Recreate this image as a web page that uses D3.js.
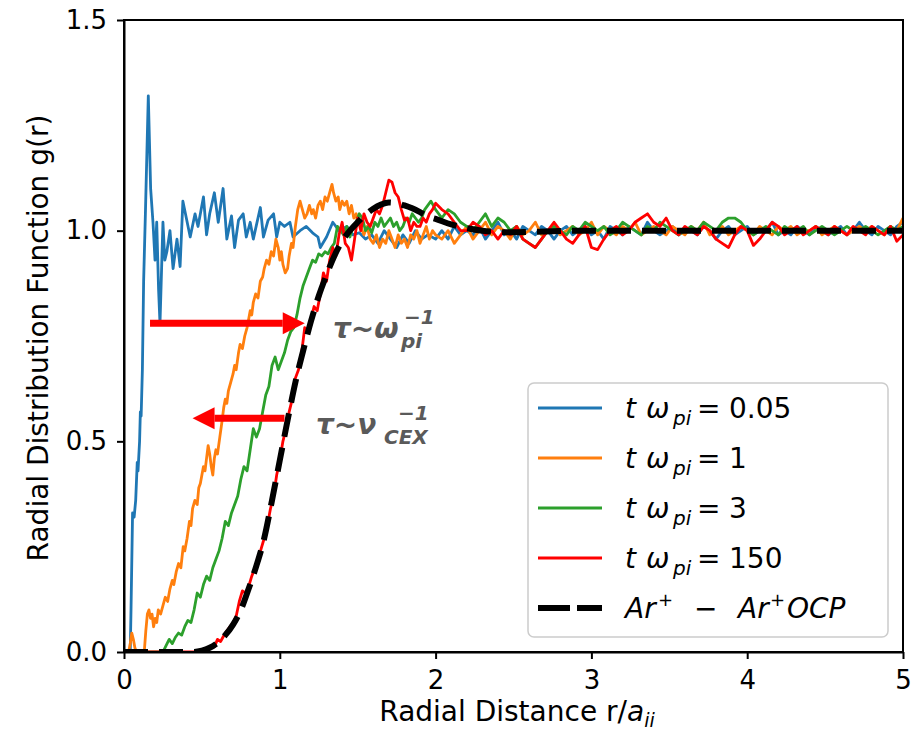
<!DOCTYPE html>
<html><head><meta charset="utf-8">
<script src="https://cdn.jsdelivr.net/npm/d3@7"></script>
<style>
html,body{margin:0;padding:0;background:#fff;}
svg{display:block;}
text{font-family:"DejaVu Sans",sans-serif;}
</style></head>
<body>
<svg id="chart" width="916" height="733"></svg>
<script>
// ---------- DATA ----------
const xTicks = [0, 1, 2, 3, 4, 5];
const yTicks = [0.0, 0.5, 1.0, 1.5];
const legendLabels = ["0.05", "1", "3", "150"];
const seriesColors = ["#1f77b4", "#ff7f0e", "#2ca02c", "#ff0000"];

// head parts [r, g(r)] up to r = 2.0
const blueHead = [[0,0],[0.04,0],[0.045,0.1],[0.055,0.33],[0.065,0.32],[0.075,0.36],[0.085,0.45],[0.09,0.43],[0.1,0.5],[0.105,0.57],[0.11,0.56],[0.118,0.67],[0.126,0.88],[0.138,1.05],[0.156,1.32],[0.171,1.10],[0.186,1.02],[0.199,0.93],[0.21,1.02],[0.222,0.86],[0.231,0.78],[0.25,1.02],[0.262,0.93],[0.275,0.95],[0.295,1.0],[0.315,0.91],[0.34,0.98],[0.36,0.915],[0.378,1.07],[0.40,1.03],[0.425,0.985],[0.456,1.04],[0.475,1.01],[0.51,1.08],[0.53,0.99],[0.55,1.04],[0.58,1.09],[0.605,1.02],[0.636,1.10],[0.66,0.98],[0.69,1.035],[0.71,0.96],[0.735,1.025],[0.765,1.04],[0.785,0.985],[0.81,1.02],[0.83,0.98],[0.875,1.055],[0.895,0.985],[0.925,1.025],[0.96,1.04],[0.98,0.985],[1.0,1.02],[1.03,1.01],[1.065,1.02],[1.085,0.985],[1.13,1.0],[1.17,1.01],[1.21,0.995],[1.245,0.985],[1.26,0.96],[1.30,0.985],[1.34,1.02],[1.38,1.0],[1.43,1.01],[1.47,0.99],[1.51,0.995],[1.55,0.98],[1.59,0.99],[1.63,0.97],[1.67,1.0],[1.71,0.98],[1.75,0.96],[1.79,0.99],[1.83,0.97],[1.87,1.0],[1.91,0.98],[1.95,0.99],[2.0,0.98]];

const orangeHead = [[0,0],[0.03,0],[0.04,0.02],[0.05,0.045],[0.06,0.03],[0.07,0.01],[0.08,0],[0.13,0],[0.14,0.05],[0.15,0.09],[0.16,0.10],[0.17,0.08],[0.18,0.09],[0.19,0.06],[0.2,0.08],[0.21,0.07],[0.22,0.10],[0.235,0.09],[0.25,0.11],[0.265,0.13],[0.28,0.12],[0.295,0.15],[0.31,0.17],[0.32,0.16],[0.335,0.19],[0.35,0.21],[0.365,0.20],[0.38,0.25],[0.39,0.24],[0.405,0.27],[0.42,0.31],[0.43,0.30],[0.44,0.34],[0.455,0.36],[0.47,0.35],[0.48,0.39],[0.49,0.40],[0.5,0.42],[0.51,0.44],[0.52,0.43],[0.53,0.46],[0.54,0.49],[0.55,0.47],[0.56,0.44],[0.57,0.42],[0.58,0.46],[0.59,0.48],[0.6,0.47],[0.615,0.51],[0.63,0.55],[0.64,0.58],[0.65,0.60],[0.66,0.59],[0.67,0.62],[0.685,0.64],[0.7,0.66],[0.71,0.68],[0.72,0.67],[0.735,0.71],[0.745,0.73],[0.76,0.72],[0.775,0.75],[0.79,0.77],[0.8,0.79],[0.81,0.81],[0.82,0.80],[0.83,0.83],[0.845,0.85],[0.86,0.84],[0.875,0.88],[0.89,0.89],[0.9,0.91],[0.915,0.93],[0.93,0.92],[0.945,0.95],[0.96,0.94],[0.975,0.98],[0.99,0.96],[1.0,0.93],[1.01,0.95],[1.02,0.92],[1.035,0.90],[1.05,0.91],[1.06,0.94],[1.075,0.97],[1.085,0.96],[1.1,1.01],[1.115,1.05],[1.13,1.07],[1.145,1.05],[1.16,1.03],[1.175,1.04],[1.19,1.06],[1.205,1.04],[1.215,1.05],[1.23,1.03],[1.245,1.06],[1.26,1.07],[1.275,1.05],[1.29,1.08],[1.305,1.07],[1.32,1.09],[1.335,1.11],[1.345,1.09],[1.36,1.07],[1.375,1.08],[1.385,1.05],[1.4,1.07],[1.415,1.06],[1.43,1.07],[1.445,1.04],[1.46,1.06],[1.475,1.03],[1.49,1.04],[1.5,1.02],[1.52,1.01],[1.54,0.99],[1.56,1.01],[1.58,0.98],[1.6,0.97],[1.62,0.99],[1.64,0.96],[1.66,0.98],[1.68,0.97],[1.7,1.0],[1.72,0.98],[1.74,0.96],[1.76,0.99],[1.78,0.97],[1.8,0.98],[1.82,0.96],[1.84,0.99],[1.86,0.98],[1.88,1.0],[1.9,0.97],[1.92,0.99],[1.94,1.01],[1.96,0.98],[1.98,1.0],[2.0,0.99]];

const greenHead = [[0,0],[0.25,0],[0.27,0.015],[0.29,0.03],[0.31,0.02],[0.33,0.035],[0.35,0.045],[0.37,0.04],[0.39,0.06],[0.41,0.075],[0.43,0.07],[0.45,0.1],[0.47,0.14],[0.49,0.13],[0.51,0.16],[0.53,0.18],[0.55,0.17],[0.57,0.2],[0.59,0.22],[0.61,0.24],[0.63,0.27],[0.65,0.31],[0.67,0.30],[0.69,0.33],[0.71,0.35],[0.73,0.37],[0.75,0.41],[0.77,0.44],[0.79,0.43],[0.81,0.48],[0.83,0.53],[0.85,0.51],[0.87,0.53],[0.89,0.57],[0.91,0.61],[0.93,0.63],[0.95,0.68],[0.97,0.70],[0.99,0.67],[1.01,0.69],[1.03,0.71],[1.05,0.74],[1.07,0.76],[1.09,0.77],[1.11,0.80],[1.13,0.84],[1.15,0.87],[1.17,0.89],[1.19,0.91],[1.21,0.93],[1.23,0.925],[1.25,0.945],[1.27,0.94],[1.29,0.95],[1.31,0.945],[1.33,0.96],[1.35,0.97],[1.37,1.01],[1.39,1.0],[1.41,0.99],[1.43,1.01],[1.45,0.985],[1.47,1.01],[1.49,1.02],[1.51,1.04],[1.53,1.03],[1.55,1.0],[1.57,1.01],[1.59,0.995],[1.61,1.02],[1.63,1.01],[1.65,1.03],[1.67,1.01],[1.69,1.02],[1.71,1.03],[1.73,1.01],[1.75,1.02],[1.77,1.0],[1.79,1.01],[1.81,1.03],[1.83,1.02],[1.85,1.04],[1.87,1.03],[1.89,1.02],[1.91,1.03],[1.93,1.05],[1.95,1.06],[1.97,1.07],[2.0,1.05]];

const redHead = [[0,0],[0.5,0],[0.55,0.01],[0.58,0.012],[0.6,0.03],[0.62,0.025],[0.65,0.045],[0.68,0.06],[0.7,0.07],[0.72,0.085],[0.74,0.12],[0.76,0.145],[0.78,0.14],[0.8,0.155],[0.82,0.18],[0.84,0.2],[0.86,0.22],[0.88,0.245],[0.9,0.27],[0.92,0.3],[0.94,0.34],[0.96,0.37],[0.98,0.42],[1.0,0.455],[1.02,0.5],[1.04,0.53],[1.06,0.57],[1.08,0.6],[1.1,0.65],[1.12,0.67],[1.14,0.71],[1.16,0.77],[1.18,0.76],[1.2,0.79],[1.22,0.82],[1.24,0.81],[1.26,0.85],[1.28,0.90],[1.3,0.88],[1.32,0.93],[1.34,0.96],[1.36,0.94],[1.38,0.99],[1.4,1.02],[1.42,0.97],[1.44,0.96],[1.46,0.93],[1.48,0.98],[1.5,1.03],[1.52,1.0],[1.54,1.04],[1.56,1.02],[1.58,1.01],[1.6,1.03],[1.62,1.05],[1.64,1.04],[1.66,1.06],[1.68,1.09],[1.7,1.12],[1.72,1.115],[1.74,1.09],[1.76,1.08],[1.78,1.05],[1.8,1.025],[1.82,1.03],[1.84,1.0],[1.86,1.02],[1.88,1.01],[1.9,1.01],[1.92,1.03],[1.94,1.02],[1.96,1.04],[1.98,1.05],[2.0,1.065]];

const ocpCurve = [[0,0],[0.45,0],[0.5,0.003],[0.55,0.01],[0.6,0.022],[0.65,0.04],[0.7,0.065],[0.75,0.1],[0.8,0.15],[0.85,0.205],[0.9,0.27],[0.95,0.36],[1.0,0.455],[1.05,0.55],[1.1,0.64],[1.15,0.715],[1.2,0.785],[1.25,0.845],[1.3,0.895],[1.35,0.94],[1.4,0.975],[1.45,1.0],[1.5,1.02],[1.55,1.038],[1.6,1.052],[1.65,1.062],[1.7,1.067],[1.75,1.065],[1.8,1.06],[1.85,1.053],[1.9,1.044],[1.95,1.034],[2.0,1.028],[2.1,1.015],[2.2,1.006],[2.3,1.0],[2.4,0.997],[2.5,0.996],[2.6,0.997],[2.8,0.999],[3.0,1.0],[4.0,1.0],[5.0,1.0]];

// tail r values and g(r) for each series
const tailR = [2.04,2.08,2.12,2.16,2.20,2.24,2.28,2.32,2.36,2.40,2.44,2.48,2.52,2.56,2.60,2.64,2.68,2.72,2.76,2.80,2.84,2.88,2.92,2.96,3.00,3.04,3.08,3.12,3.16,3.20,3.24,3.28,3.32,3.36,3.40,3.44,3.48,3.52,3.56,3.60,3.64,3.68,3.72,3.76,3.80,3.84,3.88,3.92,3.96,4.00,4.04,4.08,4.12,4.16,4.20,4.24,4.28,4.32,4.36,4.40,4.44,4.48,4.52,4.56,4.60,4.64,4.68,4.72,4.76,4.80,4.84,4.88,4.92,4.96,5.00];
const blueTail = [1.00,0.98,1.01,0.99,1.00, 0.99,1.01,0.98,1.00,1.02, 0.99,1.00,0.98,1.01,1.00, 0.99,1.01,1.00,0.98,1.00, 1.01,0.99,1.00,1.01,0.99, 1.00,0.98,1.01,1.00,0.99, 1.01,1.00,0.99,1.02,1.00, 0.99,1.00,1.01,0.99,1.00, 1.00,0.99,1.01,1.00,0.98, 1.00,1.01,0.99,1.00,1.01, 0.99,1.00,1.00,1.02,0.99, 1.00,0.99,1.01,1.00,0.99, 1.01,1.00,0.99,1.00,1.01, 0.99,1.00,1.02,1.00,0.99, 1.01,1.00,0.99,1.01,1.02];
const orangeTail = [0.98,1.00,0.97,0.99,1.01, 0.98,1.00,1.02,0.99,1.01, 1.00,0.98,1.01,0.99,1.00, 1.02,0.99,1.00,1.01,0.99, 1.00,1.01,0.99,1.00,1.02, 0.99,1.01,1.00,0.99,1.01, 1.00,1.02,0.99,1.00,1.01, 1.00,0.99,1.01,1.00,0.99, 1.01,1.00,1.02,0.99,1.00, 1.01,0.99,1.00,1.01,1.00, 0.99,1.01,1.00,0.99,1.01, 1.00,1.01,0.99,1.00,1.00, 1.01,0.99,1.00,1.01,1.00, 0.99,1.00,1.01,1.00,1.01, 1.00,0.99,1.01,1.00,1.03];
const greenTail = [1.03,1.05,1.04,1.02,1.01, 1.00,1.02,1.04,1.01,1.03, 1.02,1.00,1.01,0.98,0.97, 0.96,0.98,1.00,1.01,1.00, 0.99,1.01,1.00,1.02,1.01, 1.00,1.01,0.99,1.00,1.02, 1.01,1.00,0.99,1.01,1.00, 1.02,1.01,1.00,0.99,1.00, 1.01,1.00,1.02,1.01,1.00, 1.02,1.03,1.03,1.02,1.00, 0.99,1.00,1.01,1.00,0.99, 1.01,1.00,1.00,1.01,0.99, 1.00,1.01,1.00,0.99,1.00, 1.01,1.00,1.00,1.01,1.00, 0.99,1.00,1.01,1.00,1.01];
const redTail = [1.05,1.04,1.02,1.00,1.00, 1.02,1.01,0.99,1.00,0.98, 1.00,0.99,1.01,0.98,0.97, 0.96,0.98,1.00,1.02,1.00, 0.98,0.97,0.99,1.01,0.96, 0.955,0.98,1.00,1.01,0.99, 1.00,1.02,1.03,1.04,1.02, 1.01,1.03,1.00,0.99,1.01, 1.00,0.99,1.01,1.00,0.98, 0.97,0.96,0.99,1.01,1.00, 0.965,0.98,1.00,1.02,1.01, 0.99,1.00,1.01,0.99,1.00, 1.01,1.00,0.99,1.01,1.00, 0.99,1.01,1.00,0.99,1.01, 1.00,0.99,1.01,0.975,0.99];

// annotation arrows: [rStart, rEnd, g]
const arrowOmega = [0.167, 1.16, 0.78];
const arrowNu = [1.03, 0.44, 0.555];

// ---------- CHART ----------
const svg = d3.select("#chart");
const x = d3.scaleLinear().domain([0, 5]).range([124, 903]);
const y = d3.scaleLinear().domain([0, 1.5]).range([652, 20]);

const zip = (rs, gs) => rs.map((r, i) => [r, gs[i]]);
const seriesData = [
  blueHead.concat(zip(tailR, blueTail)),
  orangeHead.concat(zip(tailR, orangeTail)),
  greenHead.concat(zip(tailR, greenTail)),
  redHead.concat(zip(tailR, redTail))
];

svg.append("defs").append("clipPath").attr("id", "clip")
  .append("rect").attr("x", 124).attr("y", 20).attr("width", 779).attr("height", 632);

const line = d3.line().x(d => x(d[0])).y(d => y(d[1]));
const plot = svg.append("g").attr("clip-path", "url(#clip)");

seriesData.forEach((d, i) => {
  plot.append("path").datum(d).attr("d", line)
    .attr("fill", "none").attr("stroke", seriesColors[i])
    .attr("stroke-width", 2.8).attr("stroke-linejoin", "round");
});
plot.append("path").datum(ocpCurve).attr("d", d3.line().x(d => x(d[0])).y(d => y(d[1])).curve(d3.curveMonotoneX))
  .attr("fill", "none").attr("stroke", "#000").attr("stroke-width", 6)
  .attr("stroke-dasharray", "24,11");

// frame
svg.append("rect").attr("x", 124).attr("y", 20).attr("width", 779).attr("height", 632)
  .attr("fill", "none").attr("stroke", "#000").attr("stroke-width", 2);

// axes
const xAxis = svg.append("g").attr("transform", "translate(0,652)")
  .call(d3.axisBottom(x).tickValues(xTicks).tickFormat(d3.format("d")).tickSize(7).tickSizeOuter(0).tickPadding(12));
const yAxis = svg.append("g").attr("transform", "translate(124,0)")
  .call(d3.axisLeft(y).tickValues(yTicks).tickFormat(d3.format(".1f")).tickSize(7).tickSizeOuter(0).tickPadding(10));
[xAxis, yAxis].forEach(a => {
  a.select(".domain").attr("stroke-width", 2);
  a.selectAll(".tick line").attr("stroke-width", 2);
  a.selectAll(".tick text").attr("font-size", 26).attr("fill", "#000").attr("font-family", "DejaVu Sans");
});

// axis titles
const xt = svg.append("text").attr("x", 517).attr("y", 721).attr("text-anchor", "middle")
  .attr("font-size", 28).attr("fill", "#000");
xt.append("tspan").text("Radial Distance r/");
xt.append("tspan").attr("font-style", "italic").text("a");
xt.append("tspan").attr("font-style", "italic").attr("font-size", 19).attr("dy", 6).text("ii");

svg.append("text").attr("transform", "translate(48,338) rotate(-90)")
  .attr("text-anchor", "middle").attr("font-size", 28).attr("fill", "#000")
  .text("Radial Distribution Function g(r)");

// arrows
function arrow(a, dir) {
  const x0 = x(a[0]), x1 = x(a[1]), yy = y(a[2]);
  const hl = 22, hw = 11;
  const xb = x1 - dir * hl;
  svg.append("line").attr("x1", x0).attr("x2", xb).attr("y1", yy).attr("y2", yy)
    .attr("stroke", "#ff0000").attr("stroke-width", 7);
  svg.append("path").attr("d", `M${x1},${yy}L${xb},${yy - hw}L${xb},${yy + hw}Z`).attr("fill", "#ff0000");
}
arrow(arrowOmega, 1);
arrow(arrowNu, -1);

// annotation labels
function annot(xp, yp, main, sub, sup, subX, supX) {
  const g = svg.append("g").attr("fill", "#5a5a5a").attr("font-family", "DejaVu Serif").attr("font-weight", "bold").attr("font-style", "italic");
  g.append("text").attr("x", xp).attr("y", yp).attr("font-size", 28).text(main);
  g.append("text").attr("x", subX).attr("y", yp + 10).attr("font-size", 20).text(sub);
  g.append("text").attr("x", supX).attr("y", yp - 14).attr("font-size", 20).text(sup);
}
annot(333, 338, "τ~ω", "pi", "−1", 401, 404);
annot(316, 434, "τ~ν", "CEX", "−1", 384, 398);

// legend
const lg = svg.append("g");
lg.append("rect").attr("x", 528).attr("y", 383).attr("width", 360).attr("height", 254)
  .attr("rx", 6).attr("fill", "#fff").attr("fill-opacity", 0.8).attr("stroke", "#cccccc").attr("stroke-width", 1.5);
const rowY = [408, 458, 508, 558, 608];
legendLabels.forEach((lab, i) => {
  lg.append("line").attr("x1", 538).attr("x2", 602).attr("y1", rowY[i]).attr("y2", rowY[i])
    .attr("stroke", seriesColors[i]).attr("stroke-width", 3);
  const by = rowY[i] + 10;
  const t = lg.append("text").attr("font-size", 28).attr("fill", "#000");
  t.append("tspan").attr("x", 625).attr("y", by).attr("font-style", "italic").text("t");
  t.append("tspan").attr("x", 646).attr("y", by).attr("font-style", "italic").text("ω");
  t.append("tspan").attr("x", 673).attr("y", by + 7).attr("font-style", "italic").attr("font-size", 20).text("pi");
  t.append("tspan").attr("x", 697).attr("y", by).text("=");
  t.append("tspan").attr("x", 729).attr("y", by).text(lab);
});
lg.append("line").attr("x1", 538).attr("x2", 602).attr("y1", rowY[4]).attr("y2", rowY[4])
  .attr("stroke", "#000").attr("stroke-width", 6).attr("stroke-dasharray", "32,7");
const by5 = rowY[4] + 10;
const t5 = lg.append("text").attr("font-size", 28).attr("fill", "#000");
t5.append("tspan").attr("x", 625).attr("y", by5).attr("font-style", "italic").text("Ar");
t5.append("tspan").attr("x", 658).attr("y", by5 - 12).attr("font-size", 18).text("+");
t5.append("tspan").attr("x", 694).attr("y", by5).text("−");
t5.append("tspan").attr("x", 738).attr("y", by5).attr("font-style", "italic").text("Ar");
t5.append("tspan").attr("x", 770).attr("y", by5 - 12).attr("font-size", 18).text("+");
t5.append("tspan").attr("x", 787).attr("y", by5).attr("font-style", "italic").text("OCP");
</script>
</body></html>
